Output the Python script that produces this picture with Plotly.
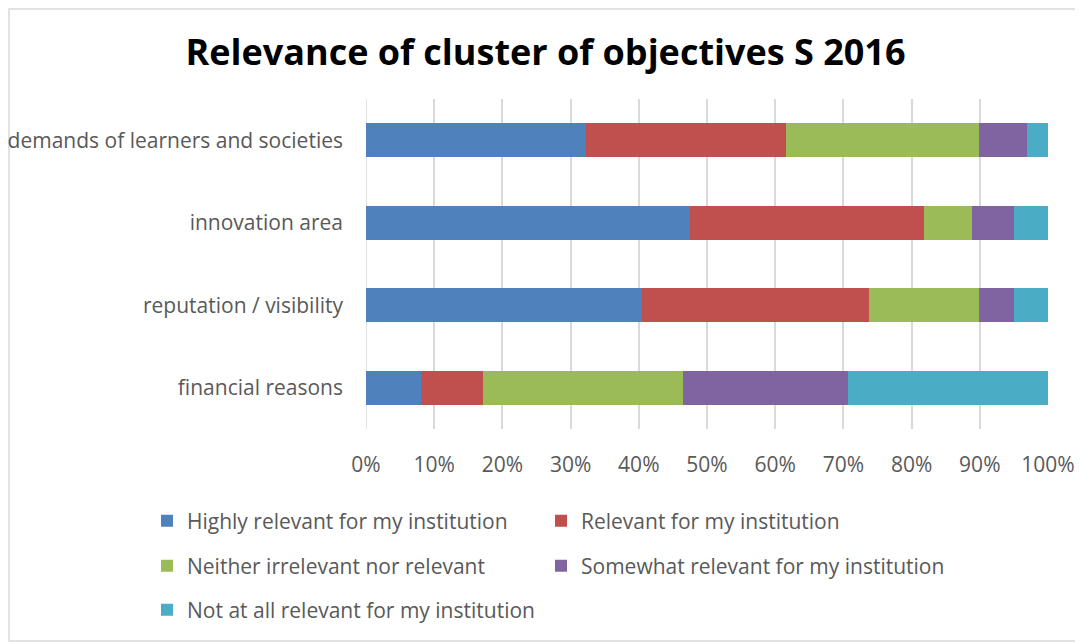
import plotly.graph_objects as go

categories = ["demands of learners and societies", "innovation area",
              "reputation / visibility", "financial reasons"]
series_names = ["Highly relevant for my institution", "Relevant for my institution",
                "Neither irrelevant nor relevant", "Somewhat relevant for my institution",
                "Not at all relevant for my institution"]
# response counts per category (normalised to percent by the chart)
highly = [32, 47, 40, 8]
relevant = [29, 34, 33, 9]
neither = [28, 7, 16, 29]
somewhat = [7, 6, 5, 24]
not_at_all = [3, 5, 5, 29]
colors = ["#4F81BD", "#C0504D", "#9BBB59", "#8064A2", "#4BACC6"]
legend_ids = ["legend", "legend2", "legend3", "legend4", "legend5"]
tick_vals = [0, 10, 20, 30, 40, 50, 60, 70, 80, 90, 100]
tick_text = [f"{v}%" for v in tick_vals]

OFF = 8  # page body margin
W, H = 1083 - OFF, 642 - OFF
L, R, T, B = 366 - OFF, 1048 - OFF, 99 - OFF, 429 - OFF
pw, ph = R - L, B - T

def px(x):
    return (x - OFF - L) / pw

def py(y):
    return (B - (y - OFF)) / ph

fig = go.Figure()
for name, vals, col, lg in zip(series_names, [highly, relevant, neither, somewhat, not_at_all],
                               colors, legend_ids):
    fig.add_trace(go.Bar(y=categories, x=vals, name=name, orientation="h",
                         marker=dict(color=col, line=dict(width=0)), legend=lg))

font_fam = "Open Sans, Noto Sans, sans-serif"
leg_common = dict(orientation="h", xanchor="left", yanchor="middle",
                  traceorder="normal",
                  font=dict(family=font_fam, size=21, color="#595959"),
                  bgcolor="rgba(0,0,0,0)", itemclick=False, itemdoubleclick=False)

# legend entry anchor positions (screen px): two columns, three rows
leg_x = [147, 541, 147, 541, 147]
leg_y = [521, 521, 566, 566, 610]
legends = {lid: dict(x=px(lx), y=py(ly), **leg_common)
           for lid, lx, ly in zip(legend_ids, leg_x, leg_y)}

fig.update_layout(
    template="none",
    width=W, height=H,
    margin=dict(l=L, r=W - R, t=T, b=H - B, autoexpand=False),
    paper_bgcolor="white", plot_bgcolor="white",
    barmode="stack", barnorm="percent", bargap=0.59,
    title=dict(text="<b>Relevance of cluster of objectives S 2016</b>",
               x=0.5, xanchor="center", y=1 - (52 - OFF) / H, yanchor="middle",
               font=dict(family=font_fam, size=36, color="black")),
    xaxis=dict(range=[0, 100], tickvals=tick_vals, ticktext=tick_text,
               showgrid=True, gridcolor="#D9D9D9", gridwidth=1.5,
               zeroline=False, showline=False, ticks="", automargin=False,
               ticklabelstandoff=21,
               tickfont=dict(family=font_fam, size=21, color="#595959")),
    yaxis=dict(autorange="reversed", showgrid=False, zeroline=False, showline=False,
               ticks="", ticklabelstandoff=22, automargin=False,
               tickfont=dict(family=font_fam, size=21, color="#595959")),
    shapes=[dict(type="rect", xref="paper", yref="paper",
                 x0=(1 - L) / pw, x1=(W - 4 - L) / pw,
                 y0=(B - (H - 1)) / ph, y1=(B - 1) / ph,
                 line=dict(color="#D9D9D9", width=1.5), fillcolor="rgba(0,0,0,0)",
                 layer="below")],
    showlegend=True,
    **legends,
)
fig.add_shape(type="line", xref="x", yref="paper", x0=0, x1=0, y0=0, y1=1,
              line=dict(color="#D9D9D9", width=1.5), layer="below")

fig.write_html("out.html")
